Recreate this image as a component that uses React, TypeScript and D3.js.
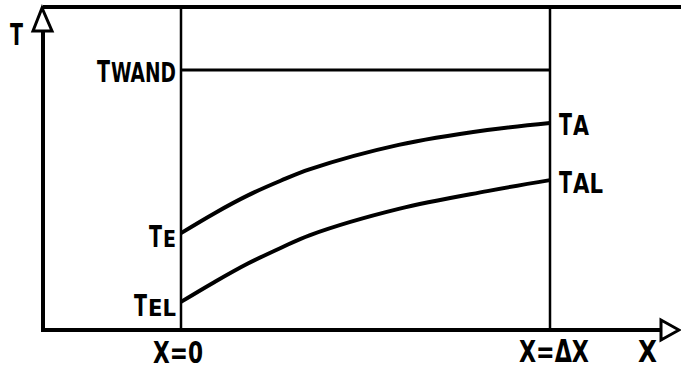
import { useRef, useEffect } from "react";
import * as d3 from "d3";

// positions along the channel, 0 = X=0, 1 = X=ΔX
const xPos = [0, 0.09, 0.18, 0.27, 0.35, 0.59, 0.83, 1];
const tA = [30.0, 36.1, 41.6, 46.2, 49.8, 57.3, 61.9, 64.1];
const tAL = [8.7, 14.8, 20.5, 25.4, 29.4, 37.5, 43.0, 46.4];
const tWand = 80.5;

const width = 681;
const height = 371;
const frameLeft = 43;
const frameTop = 7;
const frameBottom = 330;

const font = "'DejaVu Sans Condensed', 'Liberation Sans Narrow', 'DejaVu Sans', sans-serif";

export default function App() {
  const ref = useRef<SVGSVGElement>(null);
  const x = d3.scaleLinear().domain([0, 1]).range([181, 550]);
  const y = d3.scaleLinear().domain([0, 100]).range([frameBottom, frameTop]);

  const line = d3
    .line<number>()
    .x((_, i) => x(xPos[i]))
    .y((d) => y(d))
    .curve(d3.curveCatmullRom);

  // squeeze each label horizontally to the width it has in the drawing
  useEffect(() => {
    d3.select(ref.current)
      .selectAll<SVGTextElement, unknown>("text[data-len]")
      .each(function () {
        const len = +(this.getAttribute("data-len") ?? 0);
        const px = +(this.getAttribute("x") ?? 0);
        const natural = this.getComputedTextLength();
        if (!natural) return;
        const k = len / natural;
        this.setAttribute("transform", `translate(${px},0) scale(${k},1) translate(${-px},0)`);
      });
  }, []);

  const txt = (s: string, px: number, py: number, len: number, size = 31) => (
    <text x={px} y={py} data-len={len} fontFamily={font} fontSize={size} fontWeight="bold" fill="#000">
      {s}
    </text>
  );

  // "T" plus a smaller index, drawn as two texts side by side
  const tLabel = (sub: string, px: number, py: number, subLen: number, subSize: number) => (
    <g>
      {txt("T", px, py, 13)}
      {txt(sub, px + 14, py, subLen, subSize)}
    </g>
  );

  return (
    <svg
      ref={ref}
      width={width}
      height={height}
      style={{ position: "fixed", left: 0, top: 0, background: "#fff" }}
    >
      {/* frame */}
      <line x1={frameLeft} x2={width} y1={frameTop} y2={frameTop} stroke="#000" strokeWidth={4} />
      <line x1={frameLeft} x2={661} y1={frameBottom} y2={frameBottom} stroke="#000" strokeWidth={4} />
      <line x1={frameLeft} x2={frameLeft} y1={32} y2={frameBottom + 2} stroke="#000" strokeWidth={4} />
      <line x1={x(0)} x2={x(0)} y1={frameTop} y2={frameBottom} stroke="#000" strokeWidth={2.5} />
      <line x1={x(1)} x2={x(1)} y1={frameTop} y2={frameBottom} stroke="#000" strokeWidth={2.5} />

      {/* axis arrows */}
      <path d="M42,8 L33,31 L52,31 Z" fill="#fff" stroke="#000" strokeWidth={3} strokeLinejoin="miter" />
      <path d="M661,320 L679,330 L661,340 Z" fill="#fff" stroke="#000" strokeWidth={3} strokeLinejoin="miter" />

      {/* wall temperature */}
      <line x1={x(0)} x2={x(1)} y1={y(tWand)} y2={y(tWand)} stroke="#000" strokeWidth={3} />

      {/* curves */}
      <path d={line(tA) ?? ""} fill="none" stroke="#000" strokeWidth={4} />
      <path d={line(tAL) ?? ""} fill="none" stroke="#000" strokeWidth={4} />

      {/* labels */}
      {txt("T", 10, 45, 13)}
      {tLabel("WAND", 97, 82, 65, 27)}
      {tLabel("E", 149, 247, 13, 23)}
      {tLabel("EL", 134, 316, 28, 23)}
      {tLabel("A", 559, 135, 16, 27)}
      {tLabel("AL", 559, 193, 30, 26)}
      {txt("X=0", 153, 363, 50)}
      {txt("X=\u0394X", 519, 362, 70)}
      {txt("X", 638, 362, 19)}
    </svg>
  );
}
